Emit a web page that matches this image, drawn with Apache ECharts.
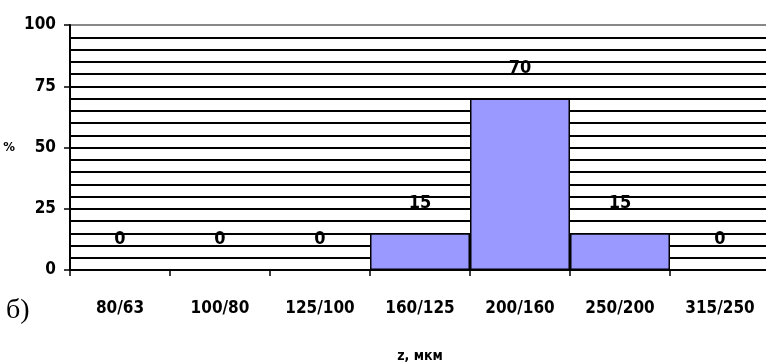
<!DOCTYPE html>
<html><head><meta charset="utf-8">
<script src="https://cdn.jsdelivr.net/npm/echarts@6/dist/echarts.min.js"></script>
<style>html,body{margin:0;padding:0;background:#fff}#c{width:766px;height:362px}</style>
</head><body><div id="c"></div>
<script>
var categories = ['80/63','100/80','125/100','160/125','200/160','250/200','315/250'];
var values = [0,0,0,15,70,15,0];
var yTicks = [0,25,50,75,100];

var font = '"DejaVu Sans Condensed","Liberation Sans Narrow","Arial Narrow",sans-serif';
var chart = echarts.init(document.getElementById('c'), null, {renderer:'canvas'});
chart.setOption({
  animation:false,
  backgroundColor:'#fff',
  grid:{left:70,width:700,top:25,height:245,containLabel:false,outerBoundsMode:'none'},
  xAxis:{
    type:'category', data:categories, boundaryGap:true,
    axisLine:{lineStyle:{color:'#000',width:2}},
    axisTick:{show:true,length:6,alignWithLabel:false,lineStyle:{color:'#000',width:1.5}},
    axisLabel:{margin:30,color:'#000',fontFamily:font,fontWeight:'bold',fontSize:17},
    name:'z, мкм', nameLocation:'middle', nameGap:79,
    nameTextStyle:{color:'#000',fontFamily:font,fontWeight:'bold',fontSize:14}
  },
  yAxis:{
    type:'value', min:yTicks[0], max:yTicks[yTicks.length-1], interval:25,
    axisLine:{show:true,lineStyle:{color:'#000',width:2}},
    axisTick:{show:true,length:6,lineStyle:{color:'#000',width:1.5}},
    axisLabel:{margin:14,color:'#000',fontFamily:font,fontWeight:'bold',fontSize:17},
    splitLine:{show:true,lineStyle:{color:['#000','#000','#000','#000','#888'],width:2}},
    minorTick:{show:false,splitNumber:5},
    minorSplitLine:{show:true,lineStyle:{color:'#000',width:2}},
    name:'%', nameLocation:'middle', nameRotate:0, nameGap:55,
    nameTextStyle:{color:'#000',fontFamily:font,fontWeight:'bold',fontSize:13}
  },
  graphic:[{type:'text',left:6,top:297,style:{text:'б)',fontFamily:'"Liberation Serif","DejaVu Serif",serif',fontSize:28,fill:'#000'}}],
  series:[{
    type:'bar', data:values, barWidth:100, barGap:'0%', barCategoryGap:'0%',
    itemStyle:{color:'#9999ff',borderColor:'#000',borderWidth:1.5},
    label:{show:true,position:'top',distance:21,color:'#000',fontFamily:font,fontWeight:'bold',fontSize:18}
  }]
});
</script></body></html>
